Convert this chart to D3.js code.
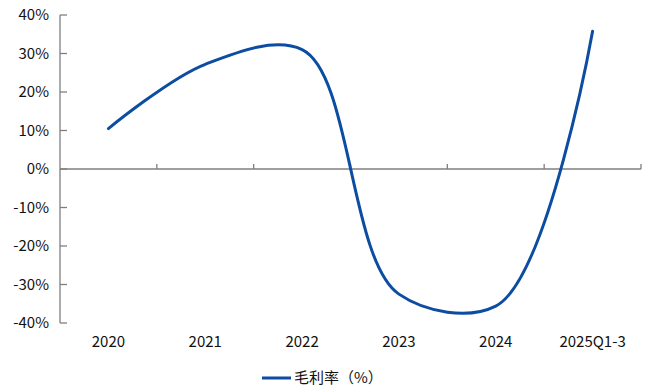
<!DOCTYPE html>
<html>
<head>
<meta charset="utf-8">
<script src="https://cdn.jsdelivr.net/npm/d3@7"></script>
<style>
  body { margin: 0; background: #fff; }
  svg text { font-family: "Noto Sans CJK SC", "Open Sans", sans-serif; fill: #111; }
</style>
</head>
<body>
<svg id="chart" width="646" height="387"></svg>
<script>
// data
var categories = ['2020', '2021', '2022', '2023', '2024', '2025Q1-3'];
var grossMargin = [10.5, 27.2, 31.0, -32.5, -35.6, 35.8];
var yTicks = [-40, -30, -20, -10, 0, 10, 20, 30, 40];
var seriesName = '毛利率（%）';

var svg = d3.select('#chart');
var axisColor = '#7f7f7f';
var lineColor = '#0c4da2';

var x = d3.scaleBand().domain(categories).range([60, 641]);
var y = d3.scaleLinear().domain([-40, 40]).range([323, 15]);

var cx = function(d, i) { return x(categories[i]) + x.bandwidth() / 2; };

// y axis
var yAxis = svg.append('g').attr('transform', 'translate(60,0)');
yAxis.append('line')
	.attr('x1', 0).attr('x2', 0)
	.attr('y1', y(-40)).attr('y2', y(40))
	.attr('stroke', axisColor).attr('stroke-width', 1.3);
yAxis.selectAll('.ytick').data(yTicks).enter()
	.append('line')
	.attr('x1', 0).attr('x2', 7)
	.attr('y1', function(d) { return y(d); })
	.attr('y2', function(d) { return y(d); })
	.attr('stroke', axisColor).attr('stroke-width', 1.3);
yAxis.selectAll('.ylabel').data(yTicks).enter()
	.append('text')
	.attr('x', -11)
	.attr('y', function(d) { return y(d); })
	.attr('dy', '0.36em')
	.attr('text-anchor', 'end')
	.style('font-size', '15px')
	.text(function(d) { return d + '%'; });

// x axis at zero
var xAxis = svg.append('g');
xAxis.append('line')
	.attr('x1', 60).attr('x2', 641)
	.attr('y1', y(0)).attr('y2', y(0))
	.attr('stroke', axisColor).attr('stroke-width', 1.3);
xAxis.selectAll('.xtick').data(categories).enter()
	.append('line')
	.attr('x1', function(d) { return x(d) + x.bandwidth(); })
	.attr('x2', function(d) { return x(d) + x.bandwidth(); })
	.attr('y1', y(0)).attr('y2', y(0) - 5)
	.attr('stroke', axisColor).attr('stroke-width', 1.3);
xAxis.selectAll('.xlabel').data(categories).enter()
	.append('text')
	.attr('x', function(d) { return x(d) + x.bandwidth() / 2; })
	.attr('y', 342)
	.attr('dy', '0.36em')
	.attr('text-anchor', 'middle')
	.style('font-size', '15px')
	.text(function(d) { return d; });

// smoothed line
var line = d3.line()
	.x(cx)
	.y(function(d) { return y(d); })
	.curve(d3.curveCatmullRom.alpha(0.6));

svg.append('path')
	.datum(grossMargin)
	.attr('d', line)
	.attr('fill', 'none')
	.attr('stroke', lineColor)
	.attr('stroke-width', 3)
	.attr('stroke-linecap', 'round');

// legend
var legend = svg.append('g').attr('transform', 'translate(262,378)');
legend.append('line')
	.attr('x1', 0).attr('x2', 29)
	.attr('stroke', lineColor).attr('stroke-width', 3);
legend.append('text')
	.attr('x', 32)
	.attr('dy', '0.36em')
	.style('font-size', '15px')
	.text(seriesName);
</script>
</body>
</html>
